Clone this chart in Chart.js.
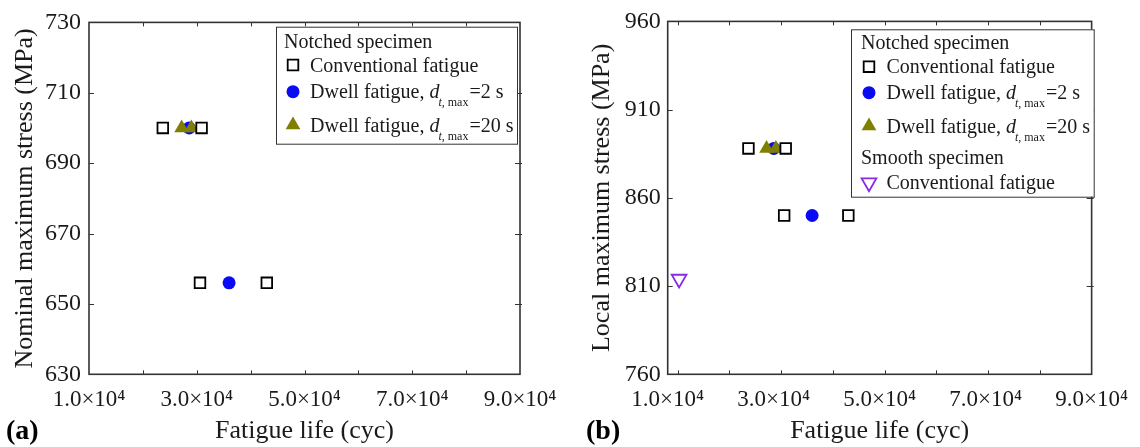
<!DOCTYPE html>
<html>
<head>
<meta charset="utf-8">
<script src="https://cdn.jsdelivr.net/npm/chart.js@4.4.1/dist/chart.umd.min.js"></script>
<style>
  body { margin: 0; background: #fff; }
  .panel { position: absolute; top: 0; width: 570px; height: 447px; }
</style>
</head>
<body>
<div class="panel" style="left:0"><canvas id="chartA" width="570" height="447"></canvas></div>
<div class="panel" style="left:570px"><canvas id="chartB" width="570" height="447"></canvas></div>
<script>
// axis ticks
var lifeTicks = [10000, 20000, 30000, 40000, 50000, 60000, 70000, 80000, 90000];
var lifeLabels = [10000, 30000, 50000, 70000, 90000];
var stressTicksA = [630, 650, 670, 690, 710, 730];
var stressTicksB = [760, 810, 860, 910, 960];

// (a) nominal maximum stress, notched specimen
var convLifeA = [23700, 30900, 30600, 43000];
var convStressA = [700, 700, 656, 656];
var dwell2LifeA = [28600, 36000];
var dwell2StressA = [700, 656];
var dwell20LifeA = [27200, 29000];
var dwell20StressA = [700, 700];

// (b) local maximum stress
var convLifeB = [23700, 30900, 30600, 43000];
var convStressB = [888, 888, 850, 850];
var dwell2LifeB = [28600, 36000];
var dwell2StressB = [888, 850];
var dwell20LifeB = [27200, 29000];
var dwell20StressB = [888, 888];
var smoothLifeB = [10300];
var smoothStressB = [814];

var SERIF = "'Liberation Serif', 'DejaVu Serif', serif";
var INK = '#1a1a1a';

function pts(xs, ys) {
  return xs.map(function (x, i) { return { x: x, y: ys[i] }; });
}

function fmtLife(v) {
  return (v / 10000).toFixed(1) + '\u00d710\u2074';
}

function convSet(xs, ys) {
  return { label: 'Conventional fatigue', data: pts(xs, ys), pointStyle: 'rect', pointRadius: 7.5,
    backgroundColor: '#fff', borderColor: '#000', borderWidth: 1.8, order: 0 };
}
function dwell2Set(xs, ys) {
  return { label: 'Dwell fatigue 2 s', data: pts(xs, ys), pointStyle: 'circle', pointRadius: 6.5,
    backgroundColor: '#0a0af5', borderColor: '#0a0af5', borderWidth: 0, order: 2 };
}
function dwell20Set(xs, ys) {
  return { label: 'Dwell fatigue 20 s', data: pts(xs, ys), pointStyle: 'triangle', pointRadius: 8.5,
    backgroundColor: '#808000', borderColor: '#808000', borderWidth: 0, order: 1 };
}

// rich text: strings roman, {i:..} italic, {si:..}/{s:..} subscript
function drawRich(ctx, parts, x, cy) {
  var base = cy + 6.5;
  var prev = null;
  ctx.textBaseline = 'alphabetic';
  ctx.textAlign = 'left';
  parts.forEach(function (p) {
    var txt, font, y = base;
    if (typeof p === 'string') { txt = p; font = '20px ' + SERIF; if (prev === 'sub') x += 1; prev = 'main'; }
    else if (p.i) { txt = p.i; font = 'italic 20px ' + SERIF; prev = 'main'; }
    else {
      if (prev === 'main') x -= 1;
      txt = p.si || p.s; font = (p.si ? 'italic ' : '') + '12px ' + SERIF; y = base + 8; prev = 'sub';
    }
    ctx.font = font;
    ctx.fillText(txt, x, y);
    x += ctx.measureText(txt).width;
  });
}

var framePlugin = {
  id: 'frame',
  afterDraw: function (chart, args, opts) {
    var ctx = chart.ctx, a = chart.chartArea;
    var xs = chart.scales.x, ys = chart.scales.y;
    ctx.save();
    // inward tick marks
    ctx.strokeStyle = '#333';
    ctx.lineWidth = 1;
    ctx.beginPath();
    lifeTicks.forEach(function (v) {
      var px = Math.round(xs.getPixelForValue(v)) + 0.5;
      if (px < a.left + 1 || px > a.right - 1) return;
      ctx.moveTo(px, a.bottom); ctx.lineTo(px, a.bottom - 4);
      ctx.moveTo(px, a.top); ctx.lineTo(px, a.top + 4);
    });
    opts.yTicks.forEach(function (v) {
      var py = Math.round(ys.getPixelForValue(v)) + 0.5;
      if (py < a.top + 1 || py > a.bottom - 1) return;
      ctx.moveTo(a.left, py); ctx.lineTo(a.left + 5, py);
      ctx.moveTo(a.right - 5, py); ctx.lineTo(a.right + 2, py);
    });
    ctx.stroke();
    ctx.lineWidth = 1.6;
    ctx.strokeRect(a.left, a.top, a.right - a.left, a.bottom - a.top);

    // legend box
    var lg = opts.legend;
    ctx.fillStyle = '#fff';
    ctx.fillRect(lg.x, lg.y, lg.w, lg.h);
    ctx.strokeStyle = '#333';
    ctx.lineWidth = 1;
    ctx.strokeRect(lg.x + 0.5, lg.y + 0.5, lg.w, lg.h);
    lg.rows.forEach(function (row) {
      var cy = lg.y + row.dy, tx;
      if (row.ds != null) {
        var ds = chart.data.datasets[row.ds];
        ctx.save();
        ctx.fillStyle = ds.backgroundColor;
        ctx.strokeStyle = ds.borderColor;
        ctx.lineWidth = ds.borderWidth;
        Chart.helpers.drawPoint(ctx, { pointStyle: ds.pointStyle, radius: ds.pointRadius,
          rotation: ds.pointRotation || 0, borderWidth: ds.borderWidth }, lg.x + lg.markX, cy);
        ctx.restore();
        tx = lg.x + lg.textX;
      } else {
        tx = lg.x + lg.headX;
      }
      ctx.fillStyle = INK;
      drawRich(ctx, row.parts, tx, cy);
    });

    // panel label
    ctx.fillStyle = '#000';
    ctx.font = 'bold 28px ' + SERIF;
    ctx.textBaseline = 'alphabetic';
    ctx.textAlign = 'left';
    ctx.fillText(opts.panel, opts.panelX, 439);
    ctx.restore();
  }
};

function makeChart(id, cfg) {
  return new Chart(document.getElementById(id), {
    type: 'scatter',
    data: { datasets: cfg.datasets },
    plugins: [framePlugin],
    options: {
      responsive: false,
      animation: false,
      events: [],
      layout: { padding: { left: 0, top: 20.7, right: cfg.padRight, bottom: 0 } },
      plugins: {
        legend: { display: false },
        tooltip: { enabled: false },
        frame: { yTicks: cfg.yTicks, legend: cfg.legend, panel: cfg.panel, panelX: cfg.panelX }
      },
      scales: {
        x: {
          type: 'linear', display: false, min: cfg.xMin, max: 90000
        },
        xl: {
          type: 'linear', axis: 'x', position: 'bottom', min: 10000, max: 90000,
          afterBuildTicks: function (s) { s.ticks = lifeLabels.map(function (v) { return { value: v }; }); },
          grid: { display: false, drawTicks: false },
          border: { display: false },
          ticks: { autoSkip: false, maxRotation: 0, padding: 12, color: INK,
            font: { family: SERIF, size: 23 }, callback: function (v) { return fmtLife(v); } },
          title: { display: true, text: 'Fatigue life (cyc)', color: INK,
            font: { family: SERIF, size: 26 }, padding: { top: 0, bottom: 0 } },
          afterFit: function (s) { s.height = 72.7; }
        },
        y: {
          type: 'linear', min: cfg.yTicks[0], max: cfg.yTicks[cfg.yTicks.length - 1],
          afterBuildTicks: function (s) { s.ticks = cfg.yTicks.map(function (v) { return { value: v }; }); },
          grid: { display: false, drawTicks: false },
          border: { display: false },
          ticks: { padding: cfg.yPad, color: INK, font: { family: SERIF, size: 24 } },
          title: { display: true, text: cfg.yTitle, color: INK,
            font: { family: SERIF, size: 26 }, padding: { top: cfg.yTitlePad, bottom: 0 } },
          afterFit: function (s) { s.width = cfg.yWidth; }
        }
      }
    }
  });
}

var rowsNotched = [
  { parts: ['Notched specimen'] },
  { ds: 0, parts: ['Conventional fatigue'] },
  { ds: 1, parts: ['Dwell fatigue, ', { i: 'd' }, { si: 't' }, { s: ', max' }, '=2 s'] },
  { ds: 2, parts: ['Dwell fatigue, ', { i: 'd' }, { si: 't' }, { s: ', max' }, '=20 s'] }
];

makeChart('chartA', {
  datasets: [convSet(convLifeA, convStressA), dwell2Set(dwell2LifeA, dwell2StressA), dwell20Set(dwell20LifeA, dwell20StressA)],
  xMin: 10000, yTicks: stressTicksA, yWidth: 89, padRight: 50, yPad: 8, yTitlePad: 10,
  yTitle: 'Nominal maximum stress (MPa)', panel: '(a)', panelX: 6,
  legend: { x: 276, y: 26.7, w: 241, h: 117, markX: 17, textX: 34, headX: 8,
    rows: [
      Object.assign({ dy: 15 }, rowsNotched[0]),
      Object.assign({ dy: 38.3 }, rowsNotched[1]),
      Object.assign({ dy: 65 }, rowsNotched[2]),
      Object.assign({ dy: 98.3 }, rowsNotched[3])
    ] }
});

var smoothSet = { label: 'Smooth conventional', data: pts(smoothLifeB, smoothStressB), pointStyle: 'triangle',
  pointRotation: 180, rotation: 180, pointRadius: 8.5, backgroundColor: 'rgba(255,255,255,0)', borderColor: '#8a2be2',
  borderWidth: 1.8, order: 0 };

makeChart('chartB', {
  datasets: [convSet(convLifeB, convStressB), dwell2Set(dwell2LifeB, dwell2StressB), dwell20Set(dwell20LifeB, dwell20StressB), smoothSet],
  xMin: 8100, yTicks: stressTicksB, yWidth: 97.7, padRight: 41, yPad: 7, yTitlePad: 16.5,
  yTitle: 'Local maximum stress (MPa)', panel: '(b)', panelX: 16,
  legend: { x: 281, y: 29.3, w: 242.7, h: 167.4, markX: 18, textX: 35.5, headX: 10,
    rows: [
      Object.assign({ dy: 13.4 }, rowsNotched[0]),
      Object.assign({ dy: 37.4 }, rowsNotched[1]),
      Object.assign({ dy: 63.4 }, rowsNotched[2]),
      Object.assign({ dy: 96.7 }, rowsNotched[3]),
      { dy: 128.4, parts: ['Smooth specimen'] },
      { dy: 153.4, ds: 3, parts: ['Conventional fatigue'] }
    ] }
});
</script>
</body>
</html>
